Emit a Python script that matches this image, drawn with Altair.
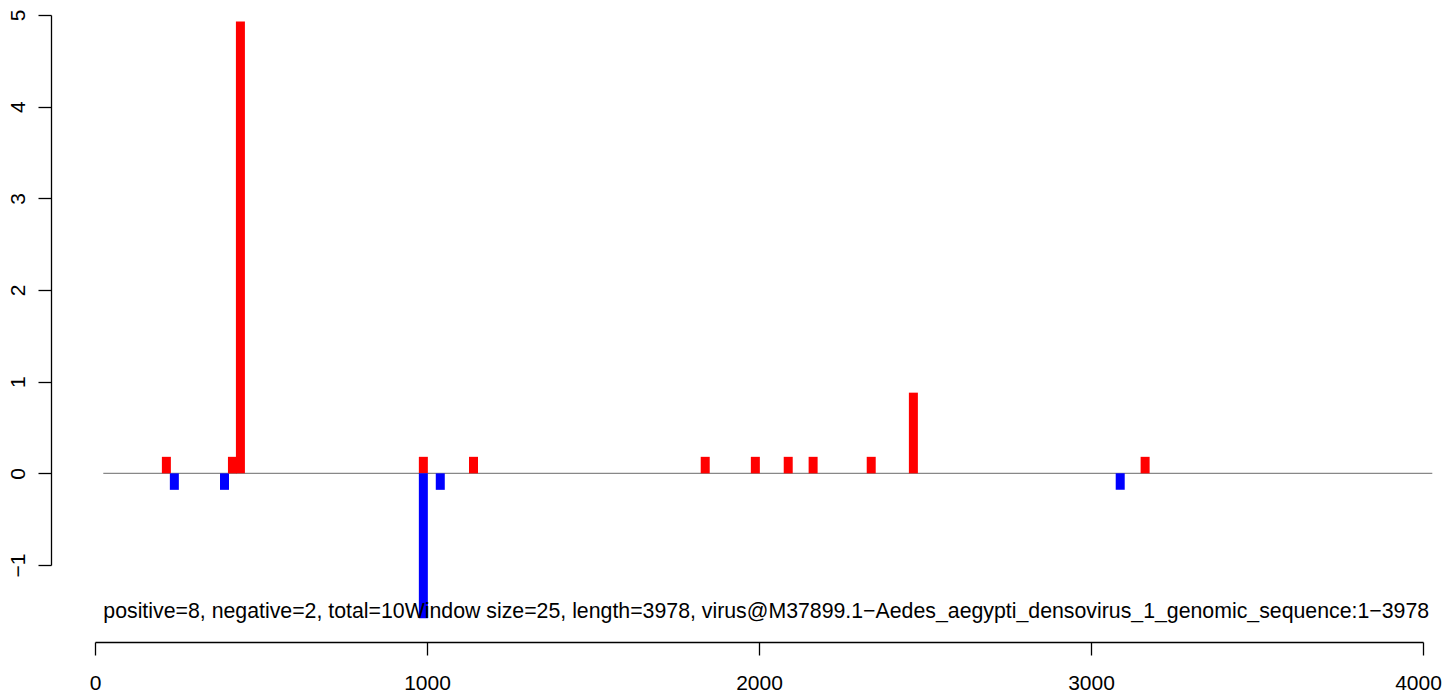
import altair as alt
import pandas as pd

# Window positions (bp) and scores
positions = [215, 239, 390, 414, 438, 989, 989, 1040, 1140, 1838, 1989, 2088, 2163, 2338, 2465, 3088, 3163]
scores = [0.18, -0.18, -0.18, 0.18, 4.93, 0.18, -1.58, -0.18, 0.18, 0.18, 0.18, 0.18, 0.18, 0.18, 0.88, -0.18, 0.18]

x_ticks = [0, 1000, 2000, 3000, 4000]
y_ticks = [-1, 0, 1, 2, 3, 4, 5]
zero_line_span = [25, 4028]
caption_text = ("positive=8, negative=2, total=10Window size=25, length=3978, "
                "virus@M37899.1\u2212Aedes_aegypti_densovirus_1_genomic_sequence:1\u22123978")
caption_pos = [25, -1.58]

FONT = "Liberation Sans"

bars_df = pd.DataFrame({
    "pos": positions,
    "score": scores,
    "sign": ["pos" if s > 0 else "neg" for s in scores],
})
line_df = pd.DataFrame({"x": [zero_line_span[0]], "x2": [zero_line_span[1]], "y": [0]})
cap_df = pd.DataFrame({"x": [caption_pos[0]], "y": [caption_pos[1]], "t": [caption_text]})

xscale = alt.Scale(domain=[0, 4000], nice=False, zero=False, padding=0)
yscale = alt.Scale(domain=[-1, 5], nice=False, zero=False, padding=0)

xaxis = alt.Axis(values=x_ticks, format="d", orient="bottom", offset=77, tickSize=13,
                 labelFontSize=21, labelFont=FONT, labelColor="black", domainColor="black",
                 tickColor="black", domainWidth=1.3, tickWidth=1.3, grid=False, title=None,
                 labelPadding=17, labelFlush=False, labelOverlap=False,
                 labelOffset={"condition": {"test": "datum.value == 4000", "value": -5}, "value": 0})
yaxis = alt.Axis(values=y_ticks, format="d", orient="left", offset=44, tickSize=13,
                 labelFontSize=21, labelFont=FONT, labelColor="black", domainColor="black",
                 tickColor="black", domainWidth=1.3, tickWidth=1.3, grid=False, title=None,
                 labelAngle=270, labelAlign="center", labelBaseline="alphabetic",
                 labelPadding=14, labelFlush=False, labelOverlap=False)

zero_line = alt.Chart(line_df).mark_rule(color="#888888", strokeWidth=1.3).encode(
    x=alt.X("x:Q", scale=xscale, axis=xaxis),
    x2="x2:Q",
    y=alt.Y("y:Q", scale=yscale, axis=yaxis),
)

bars = alt.Chart(bars_df).mark_bar(size=9).encode(
    x=alt.X("pos:Q", scale=xscale),
    y=alt.Y("score:Q", scale=yscale),
    y2=alt.datum(0),
    color=alt.Color("sign:N", scale=alt.Scale(domain=["pos", "neg"], range=["#FF0000", "#0000FF"]), legend=None),
)

caption = alt.Chart(cap_df).mark_text(align="left", baseline="alphabetic", fontSize=21.3, font=FONT,
                                      color="black").encode(
    x=alt.X("x:Q", scale=xscale),
    y=alt.Y("y:Q", scale=yscale),
    text="t:N",
)

chart = alt.layer(zero_line, bars, caption).properties(
    width=1328, height=550,
    autosize=alt.AutoSizeParams(type="none"),
    padding={"left": 87, "top": 7, "right": 19, "bottom": 128},
).configure_view(stroke=None)

chart.save("out.html", embed_options={"renderer": "svg", "actions": False})
